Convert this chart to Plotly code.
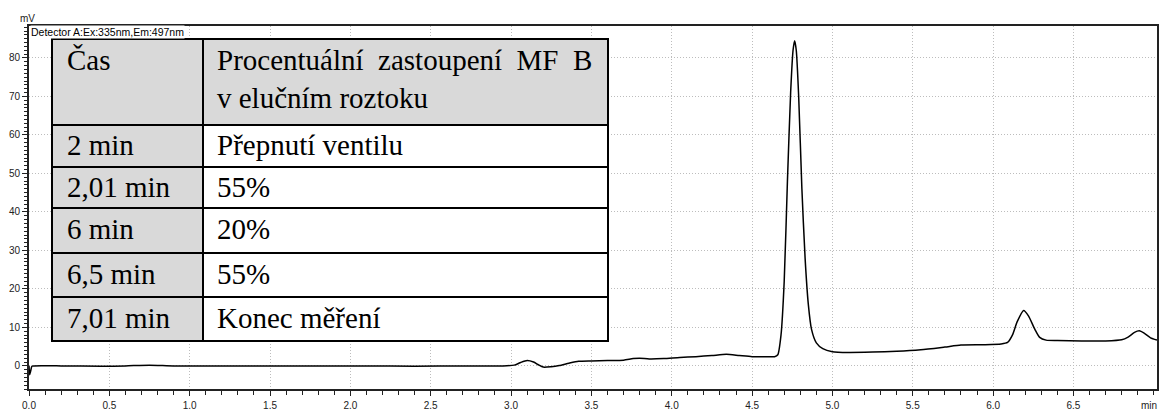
import plotly.graph_objects as go

# ---------------- data ----------------
time_min = [0.0, 0.004, 0.010, 0.018, 0.03, 0.2, 0.45, 0.6, 0.75, 0.9, 1.2, 1.5, 1.8, 2.1, 2.4, 2.7, 2.95,
            3.02, 3.06, 3.10, 3.14, 3.17, 3.20, 3.25, 3.30, 3.36, 3.42, 3.50, 3.60, 3.70, 3.76, 3.80, 3.86,
            3.95, 4.05, 4.15, 4.25, 4.34, 4.42, 4.50, 4.58, 4.64, 4.66, 4.68, 4.70, 4.72, 4.74, 4.755, 4.765,
            4.775, 4.79, 4.81, 4.83, 4.85, 4.87, 4.90, 4.94, 5.00, 5.10, 5.25, 5.40, 5.55, 5.70, 5.80, 5.95,
            6.05, 6.09, 6.12, 6.15, 6.19, 6.22, 6.26, 6.29, 6.33, 6.40, 6.55, 6.70, 6.80, 6.84, 6.88, 6.91,
            6.94, 6.98, 7.02]
signal_mv = [0.0, -2.3, -1.4, -0.1, 0.0, 0.0, -0.1, 0.0, 0.2, 0.0, 0.0, 0.0, 0.0, 0.0, -0.1, 0.0, 0.0,
             0.2, 0.9, 1.4, 1.0, 0.3, -0.3, -0.2, 0.1, 0.7, 1.2, 1.3, 1.4, 1.5, 1.9, 2.0, 1.8,
             1.9, 2.2, 2.4, 2.7, 3.0, 2.7, 2.4, 2.4, 2.4, 2.9, 8.0, 22.0, 48.0, 71.0, 82.0, 84.5,
             82.0, 70.0, 46.0, 28.0, 16.0, 9.5, 6.0, 4.5, 3.7, 3.5, 3.6, 3.8, 4.2, 4.9, 5.4, 5.5,
             5.7, 6.1, 8.0, 11.5, 14.4, 13.0, 9.5, 7.4, 6.7, 6.6, 6.5, 6.5, 6.8, 7.5, 8.7, 9.1,
             8.5, 7.3, 6.7]

x_tick_vals = [0.0, 0.5, 1.0, 1.5, 2.0, 2.5, 3.0, 3.5, 4.0, 4.5, 5.0, 5.5, 6.0, 6.5]
x_tick_text = ["0.0", "0.5", "1.0", "1.5", "2.0", "2.5", "3.0", "3.5", "4.0", "4.5", "5.0", "5.5", "6.0", "6.5"]
y_tick_vals = [0, 10, 20, 30, 40, 50, 60, 70, 80]

table_times = ["Čas", "2 min", "2,01 min", "6 min", "6,5 min", "7,01 min"]
table_values = ["Procentuální\u00a0\u00a0zastoupení\u00a0\u00a0MF\u00a0\u00a0B<br>v elučním roztoku",
                "Přepnutí ventilu", "55%", "20%", "55%", "Konec měření"]

# ---------------- layout geometry (pixels) ----------------
W, H = 1160, 412
ML, MR, MT, MB = 29, 3, 26, 23
PW = W - ML - MR
PH = H - MT - MB


def px(x):
    return (x - ML) / PW


def py(y):
    return (H - MB - y) / PH


col_x = [52, 203, 608]
row_y = [39, 125, 167, 208, 253, 297, 341]
SERIF = "Liberation Serif"

fig = go.Figure()
fig.add_trace(go.Scatter(x=time_min, y=signal_mv, mode="lines",
                         line=dict(color="black", width=1.5, shape="spline", smoothing=0.6),
                         hoverinfo="skip", showlegend=False))

shapes = []
annotations = []
for i in range(len(table_times)):
    y0, y1 = row_y[i], row_y[i + 1]
    shapes.append(dict(type="rect", xref="paper", yref="paper",
                       x0=px(col_x[0]), x1=px(col_x[1]), y0=py(y1), y1=py(y0),
                       fillcolor="#d9d9d9", line=dict(color="black", width=2), layer="above"))
    shapes.append(dict(type="rect", xref="paper", yref="paper",
                       x0=px(col_x[1]), x1=px(col_x[2]), y0=py(y1), y1=py(y0),
                       fillcolor="#d9d9d9" if i == 0 else "white",
                       line=dict(color="black", width=2), layer="above"))
    if i == 0:
        annotations.append(dict(xref="paper", yref="paper", x=px(65), y=py(y0 + 21), text=table_times[i],
                                xanchor="left", yanchor="middle", showarrow=False,
                                font=dict(family=SERIF, size=29, color="black")))
        annotations.append(dict(xref="paper", yref="paper", x=px(215), y=py(y0 + 3), text=table_values[i],
                                xanchor="left", yanchor="top", showarrow=False, align="left",
                                font=dict(family=SERIF, size=29, color="black")))
    else:
        ty = (y0 + y1) / 2 - 1
        annotations.append(dict(xref="paper", yref="paper", x=px(65), y=py(ty), text=table_times[i],
                                xanchor="left", yanchor="middle", showarrow=False,
                                font=dict(family=SERIF, size=29, color="black")))
        annotations.append(dict(xref="paper", yref="paper", x=px(215), y=py(ty), text=table_values[i],
                                xanchor="left", yanchor="middle", showarrow=False,
                                font=dict(family=SERIF, size=29, color="black")))

annotations.append(dict(xref="paper", yref="paper", x=px(30), y=py(32), text="Detector A:Ex:335nm,Em:497nm",
                        xanchor="left", yanchor="middle", showarrow=False, bgcolor="white", borderpad=0,
                        font=dict(family="Liberation Sans", size=10.5, color="black")))
annotations.append(dict(xref="paper", yref="paper", x=px(27), y=py(18), text="mV",
                        xanchor="center", yanchor="middle", showarrow=False,
                        font=dict(family="Liberation Sans", size=10, color="#222")))
annotations.append(dict(xref="paper", yref="paper", x=px(1149), y=py(405), text="min",
                        xanchor="center", yanchor="middle", showarrow=False,
                        font=dict(family="Liberation Sans", size=10, color="#222")))

GRID = dict(showgrid=True, gridcolor="#bdbdbd", griddash="1px,2px", gridwidth=1)

fig.update_layout(
    width=W, height=H,
    margin=dict(l=ML, r=MR, t=MT, b=MB, autoexpand=False),
    paper_bgcolor="white", plot_bgcolor="white",
    shapes=shapes, annotations=annotations,
    font=dict(family="Liberation Sans", size=10, color="#222"),
    xaxis=dict(range=[0, 7.02], tickvals=x_tick_vals, ticktext=x_tick_text, automargin=False,
               showline=True, linecolor="#222", linewidth=2, mirror=True,
               ticks="outside", ticklen=5, tickcolor="#222", tickwidth=1,
               minor=dict(dtick=0.1, ticks="outside", ticklen=4, tickcolor="#222", showgrid=False),
               zeroline=False, ticklabelstandoff=1, **GRID),
    yaxis=dict(range=[-6, 88.3], tickvals=y_tick_vals, automargin=False,
               showline=True, linecolor="#222", linewidth=2, mirror=True,
               ticks="outside", ticklen=5, tickcolor="#222", tickwidth=1,
               minor=dict(dtick=1, ticks="outside", ticklen=3, tickcolor="#222", showgrid=False),
               zeroline=False, **GRID),
)

fig.write_html("out.html")
